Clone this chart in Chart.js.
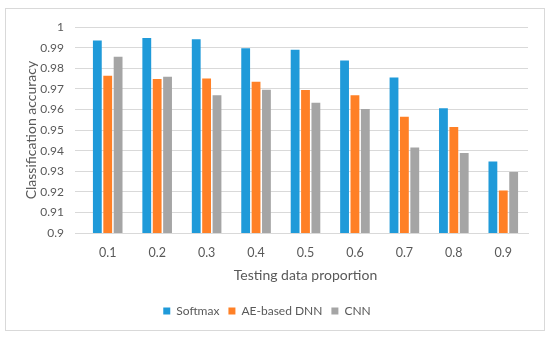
<!DOCTYPE html>
<html>
<head>
<meta charset="utf-8">
<script src="https://cdn.jsdelivr.net/npm/chart.js@4/dist/chart.umd.min.js"></script>
<style>
  html, body { margin: 0; padding: 0; background: #fff; }
  #box { position: absolute; left: 5px; top: 8px; width: 538px; height: 321px; border: 1px solid #d9d9d9; }
  canvas { display: block; }
</style>
</head>
<body>
<div id="box"><canvas id="chart" width="538" height="321"></canvas></div>
<script>
const categories = ['0.1', '0.2', '0.3', '0.4', '0.5', '0.6', '0.7', '0.8', '0.9'];
const softmax = [0.9935, 0.9947, 0.9942, 0.9898, 0.9890, 0.9838, 0.9756, 0.9606, 0.9347];
const aeDnn   = [0.9764, 0.9748, 0.9751, 0.9735, 0.9695, 0.9669, 0.9565, 0.9515, 0.9207];
const cnn     = [0.9856, 0.9759, 0.9669, 0.9696, 0.9633, 0.9603, 0.9415, 0.9389, 0.9297];
const yMin = 0.9, yMax = 1, yStep = 0.01;

const font = "Lato, 'Open Sans', sans-serif";
const ctx = document.getElementById('chart').getContext('2d');

new Chart(ctx, {
  type: 'bar',
  data: {
    labels: categories,
    datasets: [
      { label: 'Softmax', data: softmax, backgroundColor: '#1f9ad9' },
      { label: 'AE-based DNN', data: aeDnn, backgroundColor: '#ff8026' },
      { label: 'CNN', data: cnn, backgroundColor: '#a5a5a5' }
    ]
  },
  options: {
    responsive: false,
    animation: false,
    datasets: { bar: { categoryPercentage: 0.63, barPercentage: 0.85 } },
    layout: { padding: { top: 8, right: 16, left: 0, bottom: 3 } },
    plugins: {
      tooltip: { enabled: false },
      legend: {
        position: 'bottom',
        labels: { boxWidth: 7, boxHeight: 7, color: '#595959', font: { family: font, size: 12 }, padding: 9 }
      }
    },
    scales: {
      x: {
        grid: { display: false },
        border: { color: '#d9d9d9' },
        ticks: { color: '#595959', font: { family: font, size: 12.5 }, padding: 4 },
        title: { display: true, text: 'Testing data proportion', color: '#595959', font: { family: font, size: 14 }, padding: { top: 0, bottom: 12 } },
        afterFit: function(scale) { scale.height = 63; }
      },
      y: {
        min: yMin,
        max: yMax,
        grid: { color: '#d9d9d9' },
        border: { display: false },
        ticks: {
          stepSize: yStep,
          color: '#595959',
          font: { family: font, size: 12 },
          padding: 11,
          callback: function(v) { return String(Number(v.toFixed(2))); }
        },
        title: { display: true, text: 'Classification accuracy', color: '#595959', font: { family: font, size: 14 }, padding: { top: 17 } },
        afterFit: function(scale) { scale.width = 77; }
      }
    }
  }
});
</script>
</body>
</html>
